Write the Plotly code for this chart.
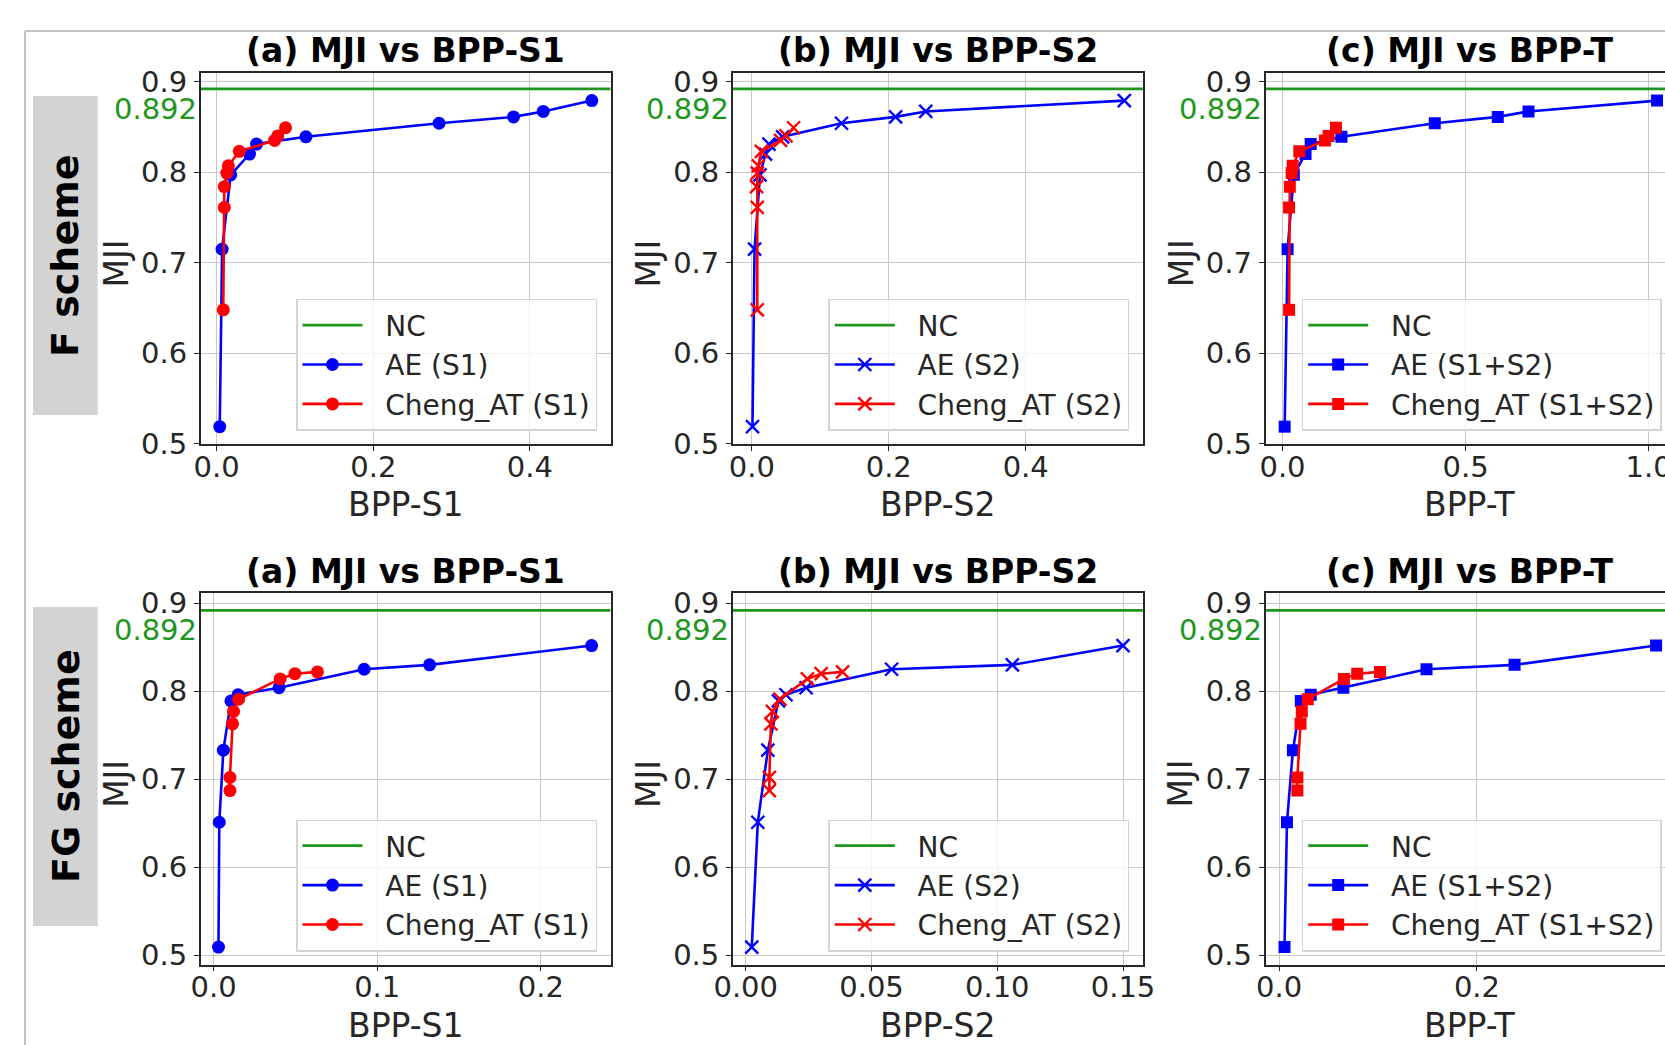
import plotly.graph_objects as go

W, H = 1665, 1045

# Reference MJI of the uncompressed (NC) pipeline
NC_MJI = 0.892

# ---------------- F scheme ----------------
f_ae_mji = [0.519, 0.715, 0.797, 0.820, 0.831, 0.839, 0.854, 0.861, 0.867, 0.879]
f_ae_bpp_s1 = [0.004, 0.007, 0.018, 0.042, 0.051, 0.114, 0.284, 0.379, 0.417, 0.479]
f_ae_bpp_s2 = [0.001, 0.004, 0.012, 0.020, 0.025, 0.045, 0.131, 0.210, 0.254, 0.544]
f_ae_bpp_t = [0.006, 0.014, 0.031, 0.063, 0.077, 0.161, 0.416, 0.588, 0.672, 1.023]

f_ch_mji = [0.648, 0.761, 0.784, 0.799, 0.807, 0.823, 0.835, 0.840, 0.849]
f_ch_bpp_s1 = [0.0085, 0.0098, 0.0098, 0.013, 0.015, 0.029, 0.074, 0.078, 0.088]
f_ch_bpp_s2 = [0.008, 0.008, 0.007, 0.008, 0.0095, 0.014, 0.042, 0.050, 0.061]
f_ch_bpp_t = [0.018, 0.018, 0.020, 0.025, 0.028, 0.046, 0.116, 0.126, 0.146]

# ---------------- FG scheme ----------------
fg_ae_mji = [0.509, 0.651, 0.733, 0.789, 0.796, 0.804, 0.825, 0.830, 0.852]
fg_ae_bpp_s1 = [0.003, 0.0035, 0.006, 0.0106, 0.015, 0.040, 0.092, 0.132, 0.231]
fg_ae_bpp_s2 = [0.0024, 0.0048, 0.0088, 0.013, 0.016, 0.024, 0.058, 0.106, 0.150]
fg_ae_bpp_t = [0.0055, 0.008, 0.014, 0.022, 0.032, 0.065, 0.149, 0.238, 0.381]

fg_ch_mji = [0.687, 0.702, 0.763, 0.777, 0.791, 0.814, 0.820, 0.822]
fg_ch_bpp_s1 = [0.010, 0.010, 0.0116, 0.0122, 0.0153, 0.0407, 0.0497, 0.0635]
fg_ch_bpp_s2 = [0.0094, 0.0094, 0.010, 0.0106, 0.0136, 0.0245, 0.030, 0.0385]
fg_ch_bpp_t = [0.0185, 0.0185, 0.0217, 0.023, 0.029, 0.0655, 0.079, 0.102]

panel_titles = ["(a) MJI vs BPP-S1", "(b) MJI vs BPP-S2", "(c) MJI vs BPP-T"]
x_titles = ["BPP-S1", "BPP-S2", "BPP-T"]
scheme_names = ["F scheme", "FG scheme"]
stream_tags = ["S1", "S2", "S1+S2"]
marker_symbols = ["circle", "x-thin", "square"]

# tick values / labels per panel (row-major)
x_tickvals = [
    [0.0, 0.2, 0.4], [0.0, 0.2, 0.4], [0.0, 0.5, 1.0],
    [0.0, 0.1, 0.2], [0.0, 0.05, 0.10, 0.15], [0.0, 0.2],
]
x_ticktext = [
    ["0.0", "0.2", "0.4"], ["0.0", "0.2", "0.4"], ["0.0", "0.5", "1.0"],
    ["0.0", "0.1", "0.2"], ["0.00", "0.05", "0.10", "0.15"], ["0.0", "0.2"],
]
y_tickvals = [0.5, 0.6, 0.7, 0.8, 0.9]
y_ticktext = ["0.5", "0.6", "0.7", "0.8", "0.9"]

x_ranges = [
    [-0.0202, 0.503], [-0.0276, 0.5711], [-0.0464, 1.0448],
    [-0.0078, 0.2426], [-0.0051, 0.1579], [-0.0137, 0.390],
]
y_ranges = [[0.5, 0.910], [0.4892, 0.9122]]

series = [
    # (AE x, AE y, Cheng x, Cheng y) per panel
    (f_ae_bpp_s1, f_ae_mji, f_ch_bpp_s1, f_ch_mji),
    (f_ae_bpp_s2, f_ae_mji, f_ch_bpp_s2, f_ch_mji),
    (f_ae_bpp_t, f_ae_mji, f_ch_bpp_t, f_ch_mji),
    (fg_ae_bpp_s1, fg_ae_mji, fg_ch_bpp_s1, fg_ch_mji),
    (fg_ae_bpp_s2, fg_ae_mji, fg_ch_bpp_s2, fg_ch_mji),
    (fg_ae_bpp_t, fg_ae_mji, fg_ch_bpp_t, fg_ch_mji),
]

# ---------- layout geometry (pixels) ----------
col_px = [(200.8, 610.6), (732.9, 1142.9), (1265.5, 1675.3)]
row_px = [(72.5, 443.9), (592.6, 964.5)]

BLUE = "#0000ff"
RED = "#ff0000"
GREEN = "#1e961e"
FONT = "DejaVu Sans"
INK = "#262626"
PAD = "\u00a0\u00a0"  # extra gap between legend sample and its label

fig = go.Figure()
annotations = []
shapes = []
layout = {}


def px_x(v):
    return v / W


def px_y(v):
    return 1 - v / H


for idx in range(6):
    r, c = divmod(idx, 3)
    n = idx + 1
    xa = "x" if n == 1 else f"x{n}"
    ya = "y" if n == 1 else f"y{n}"
    lg = "legend" if n == 1 else f"legend{n}"
    x0, x1 = col_px[c]
    y0, y1 = row_px[r]
    dom_x = [px_x(x0), min(1.0, px_x(x1))]
    dom_y = [px_y(y1), px_y(y0)]

    ae_x, ae_y, ch_x, ch_y = series[idx]
    sym = marker_symbols[c]
    tag = stream_tags[c]
    msize = 13 if sym == "circle" else (12 if sym == "square" else 13)

    def mk(color):
        if sym == "x-thin":
            return dict(symbol=sym, size=msize, color=color,
                        line=dict(width=2.4, color=color))
        return dict(symbol=sym, size=msize, color=color, line=dict(width=0))

    fig.add_trace(go.Scatter(
        x=x_ranges[idx], y=[NC_MJI, NC_MJI], mode="lines", name=PAD + "NC",
        line=dict(color=GREEN, width=2.8), xaxis=xa, yaxis=ya, legend=lg,
    ))
    fig.add_trace(go.Scatter(
        x=ae_x, y=ae_y, mode="lines+markers", name=f"{PAD}AE ({tag})",
        line=dict(color=BLUE, width=2.6), marker=mk(BLUE),
        xaxis=xa, yaxis=ya, legend=lg,
    ))
    fig.add_trace(go.Scatter(
        x=ch_x, y=ch_y, mode="lines+markers", name=f"{PAD}Cheng_AT ({tag})",
        line=dict(color=RED, width=2.6), marker=mk(RED),
        xaxis=xa, yaxis=ya, legend=lg,
    ))

    common = dict(
        showline=True, linecolor=INK, linewidth=1.6,
        showgrid=True, gridcolor="#c8c8c8", gridwidth=1.3,
        zeroline=False, ticks="outside", ticklen=5, tickwidth=1.3,
        tickcolor=INK, tickfont=dict(family=FONT, size=29, color=INK),
        ticklabeloverflow="allow",
    )
    layout[xa.replace("x", "xaxis")] = dict(
        common, domain=dom_x, range=x_ranges[idx], anchor=ya,
        tickvals=x_tickvals[idx], ticktext=x_ticktext[idx], mirror=True,
        ticklabelstandoff=-9,
    )
    layout[ya.replace("y", "yaxis")] = dict(
        common, domain=dom_y, range=y_ranges[r], anchor=xa,
        tickvals=y_tickvals, ticktext=y_ticktext,
        mirror=(c != 2), ticklabelstandoff=1,
    )

    # legend box anchored to lower-right corner of the axes
    layout[lg] = dict(
        x=px_x(x1 - 13.6), y=px_y(y1 - 13), xanchor="right", yanchor="bottom",
        xref="paper", yref="paper",
        font=dict(family=FONT, size=28, color=INK),
        bgcolor="rgba(255,255,255,0.8)", bordercolor="#d4d4d4", borderwidth=1.5,
        itemwidth=60, traceorder="normal",
    )

    cx = (x0 + x1) / 2
    annotations.append(dict(
        text=f"<b>{panel_titles[c]}</b>", x=px_x(cx), y=px_y(r * 520.5 + 50.5),
        xref="paper", yref="paper", showarrow=False,
        font=dict(family=FONT, size=33, color="#000000"),
        xanchor="center", yanchor="middle",
    ))
    annotations.append(dict(
        text=x_titles[c], x=px_x(cx), y=px_y(y1 + 61),
        xref="paper", yref="paper", showarrow=False,
        font=dict(family=FONT, size=33, color=INK),
        xanchor="center", yanchor="middle",
    ))
    annotations.append(dict(
        text="MJI", x=px_x(x0 - 84.5), y=px_y((y0 + y1) / 2 + 5),
        xref="paper", yref="paper", showarrow=False, textangle=-90,
        font=dict(family=FONT, size=33, color=INK),
        xanchor="center", yanchor="middle",
    ))
    annotations.append(dict(
        text=f"{NC_MJI:.3f}", x=0, y=NC_MJI,
        xref=f"{xa} domain", yref=ya, showarrow=False,
        font=dict(family=FONT, size=29, color=GREEN),
        xanchor="right", yanchor="middle", xshift=-2, yshift=-20,
    ))

# scheme label boxes on the left
scheme_box_px = [(96, 415), (607, 926)]
for name, (b0, b1) in zip(scheme_names, scheme_box_px):
    shapes.append(dict(
        type="rect", xref="paper", yref="paper",
        x0=px_x(33), x1=px_x(97.7), y0=px_y(b1), y1=px_y(b0),
        fillcolor="#d3d3d3", line=dict(width=0), layer="below",
    ))
    annotations.append(dict(
        text=f"<b>{name}</b>", x=px_x(65.5), y=px_y((b0 + b1) / 2),
        xref="paper", yref="paper", showarrow=False, textangle=-90,
        font=dict(family=FONT, size=38, color="#000000"),
        xanchor="center", yanchor="middle",
    ))

# light frame around the figure
shapes.append(dict(type="line", xref="paper", yref="paper",
                   x0=px_x(25), x1=1.0, y0=px_y(31), y1=px_y(31),
                   line=dict(color="#c4c4c4", width=2)))
shapes.append(dict(type="line", xref="paper", yref="paper",
                   x0=px_x(25), x1=px_x(25), y0=0.0, y1=px_y(31),
                   line=dict(color="#c4c4c4", width=2)))

fig.update_layout(
    width=W, height=H,
    margin=dict(l=0, r=0, t=0, b=0, autoexpand=False),
    paper_bgcolor="white", plot_bgcolor="white",
    showlegend=True,
    annotations=annotations, shapes=shapes,
    **layout,
)

fig.write_html("out.html", config={"displayModeBar": False})
